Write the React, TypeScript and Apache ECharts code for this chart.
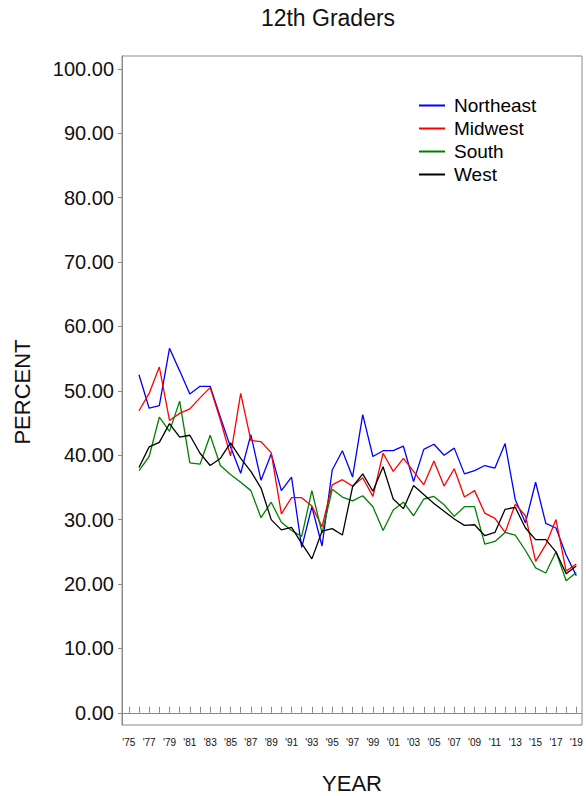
import React, { useEffect, useRef } from "react";
import * as echarts from "echarts";

const years = [
  1976, 1977, 1978, 1979, 1980, 1981, 1982, 1983, 1984, 1985,
  1986, 1987, 1988, 1989, 1990, 1991, 1992, 1993, 1994, 1995,
  1996, 1997, 1998, 1999, 2000, 2001, 2002, 2003, 2004, 2005,
  2006, 2007, 2008, 2009, 2010, 2011, 2012, 2013, 2014, 2015,
  2016, 2017, 2018, 2019,
];

const northeast = [
  52.5, 47.3, 47.7, 56.6, 53.1, 49.5, 50.7, 50.7, 45.9, 41.3,
  37.2, 43.2, 36.1, 40.2, 34.5, 36.6, 25.7, 32.0, 25.9, 37.7,
  40.7, 36.6, 46.3, 39.8, 40.7, 40.7, 41.4, 35.9, 40.9, 41.7,
  40.0, 41.1, 37.1, 37.6, 38.4, 38.0, 41.8, 33.1, 29.5, 35.8,
  29.4, 28.7, 24.5, 21.3,
];

const midwest = [
  46.9, 49.6, 53.7, 45.4, 46.5, 47.2, 48.9, 50.5, 45.5, 39.9,
  49.6, 42.3, 42.1, 40.4, 30.9, 33.4, 33.4, 32.1, 28.9, 35.4,
  36.2, 35.2, 36.5, 33.6, 40.3, 37.5, 39.5, 37.5, 35.4, 39.1,
  35.2, 37.9, 33.5, 34.5, 31.0, 30.2, 28.0, 32.4, 30.6, 23.5,
  26.1, 30.0, 22.0, 23.1,
];

const south = [
  37.6, 39.8, 45.9, 43.7, 48.4, 38.8, 38.6, 43.1, 38.4, 37.0,
  35.8, 34.5, 30.3, 32.7, 29.6, 28.3, 27.4, 34.5, 27.9, 34.7,
  33.5, 32.9, 33.7, 32.0, 28.3, 31.5, 32.7, 30.6, 33.2, 33.6,
  32.3, 30.5, 32.0, 32.0, 26.2, 26.6, 28.0, 27.6, 25.2, 22.5,
  21.7, 25.0, 20.5, 21.8,
];

const west = [
  38.1, 41.3, 42.0, 44.9, 42.8, 43.1, 40.3, 38.4, 39.5, 41.9,
  39.5, 37.5, 34.9, 30.0, 28.4, 28.8, 26.3, 23.9, 28.2, 28.6,
  27.6, 35.1, 37.1, 34.4, 38.2, 33.2, 31.7, 35.3, 33.9, 32.5,
  31.3, 30.1, 29.1, 29.2, 27.5, 28.0, 31.6, 31.9, 28.7, 26.9,
  26.9, 25.0, 21.6, 22.8,
];

const seriesNames = ["Northeast", "Midwest", "South", "West"];
const seriesColors = ["#0000FF", "#FF0000", "#008000", "#000000"];

const yTickValues = [0, 10, 20, 30, 40, 50, 60, 70, 80, 90, 100];
const xLabelYears = [
  1975, 1977, 1979, 1981, 1983, 1985, 1987, 1989, 1991, 1993, 1995, 1997,
  1999, 2001, 2003, 2005, 2007, 2009, 2011, 2013, 2015, 2017, 2019,
];
const xTickLabels = [
  "'75", "'77", "'79", "'81", "'83", "'85", "'87", "'89", "'91", "'93", "'95", "'97",
  "'99", "'01", "'03", "'05", "'07", "'09", "'11", "'13", "'15", "'17", "'19",
];

const FONT = "'Liberation Sans', Arial, sans-serif";

export default function App() {
  const ref = useRef<HTMLDivElement>(null);

  useEffect(() => {
    document.body.style.margin = "0";
    if (!ref.current) return;
    const chart = echarts.init(ref.current, null, { renderer: "svg" });

    const tickYears: number[] = [];
    for (let y = 1975; y <= 2019; y++) tickYears.push(y);

    const allSeries = [northeast, midwest, south, west];

    chart.setOption({
      animation: false,
      backgroundColor: "#ffffff",
      textStyle: { fontFamily: FONT },
      grid: {
        left: 122,
        top: 56,
        width: 460,
        height: 669,
        show: true,
        borderColor: "#8a8a8a",
        borderWidth: 1,
        containLabel: false,
      },
      legend: {
        orient: "vertical",
        left: 419,
        top: 96,
        padding: 0,
        itemGap: 4,
        itemWidth: 26,
        itemHeight: 2,
        icon: "rect",
        data: seriesNames,
        textStyle: {
          fontSize: 19,
          lineHeight: 19,
          color: "#000",
          fontFamily: FONT,
          padding: [0, 0, 0, 4],
        },
      },
      xAxis: {
        type: "value",
        min: 1974.33,
        max: 2019.56,
        splitLine: { show: false },
        axisLine: { show: true, lineStyle: { color: "#8a8a8a", width: 1 } },
        axisTick: {
          show: true,
          inside: true,
          length: 6,
          customValues: tickYears,
          lineStyle: { color: "#8a8a8a", width: 1 },
        },
        axisLabel: {
          customValues: xLabelYears,
          formatter: (v: number) => {
            const i = xLabelYears.indexOf(Math.round(v));
            return i >= 0 ? xTickLabels[i] : "";
          },
          fontSize: 10,
          color: "#111",
          margin: 12,
          fontFamily: FONT,
        },
      },
      yAxis: {
        type: "value",
        min: -1.9,
        max: 102,
        splitLine: { show: false },
        axisLine: { show: true, lineStyle: { color: "#8a8a8a", width: 1 } },
        axisTick: {
          show: true,
          inside: false,
          length: 4,
          customValues: yTickValues,
          lineStyle: { color: "#8a8a8a", width: 1 },
        },
        axisLabel: {
          customValues: yTickValues,
          formatter: (v: number) => v.toFixed(2),
          fontSize: 20,
          color: "#111",
          margin: 8,
          fontFamily: FONT,
        },
      },
      graphic: [
        {
          type: "text",
          x: 328,
          y: 18,
          style: {
            text: "12th Graders",
            fontSize: 23,
            fontFamily: FONT,
            fill: "#111",
            textAlign: "center",
            textVerticalAlign: "middle",
          },
        },
        {
          type: "text",
          x: 22,
          y: 392,
          rotation: Math.PI / 2,
          style: {
            text: "PERCENT",
            fontSize: 22,
            fontFamily: FONT,
            fill: "#111",
            textAlign: "center",
            textVerticalAlign: "middle",
          },
        },
        {
          type: "text",
          x: 352,
          y: 783,
          style: {
            text: "YEAR",
            fontSize: 22,
            fontFamily: FONT,
            fill: "#111",
            textAlign: "center",
            textVerticalAlign: "middle",
          },
        },
      ],
      series: allSeries.map((vals, si) => ({
        name: seriesNames[si],
        type: "line",
        symbol: "none",
        color: seriesColors[si],
        lineStyle: { color: seriesColors[si], width: 1.3 },
        data: years.map((yr, i) => [yr, vals[i]]),
      })),
    });

    return () => chart.dispose();
  }, []);

  return <div ref={ref} style={{ width: 586, height: 796 }} />;
}
